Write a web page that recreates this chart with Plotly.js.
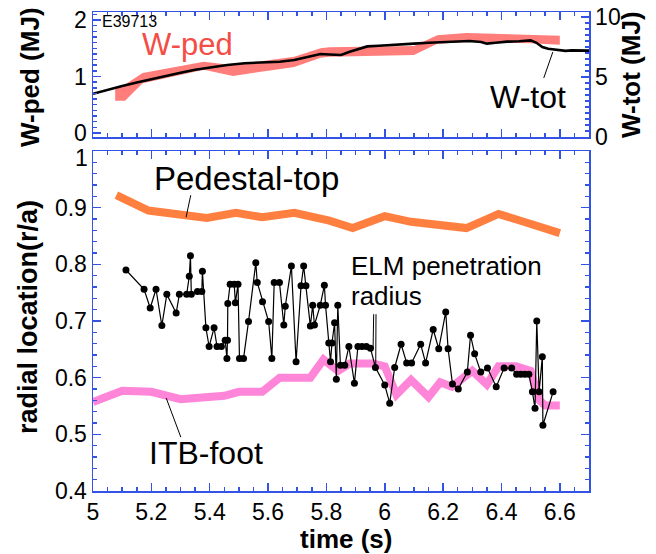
<!DOCTYPE html>
<html>
<head>
<meta charset="utf-8">
<script src="https://cdn.plot.ly/plotly-3.0.1.min.js"></script>
<style>html,body{margin:0;padding:0;background:#fff;}#chart{width:656px;height:554px;}</style>
</head>
<body>
<div id="chart"></div>
<script>
// ---- Data ----
// Upper panel: W-ped band (MJ, left axis)
const wpedT     = [5.076, 5.11, 5.17, 5.38, 5.48, 5.69, 5.78, 5.81, 6.10, 6.18, 6.28, 6.50, 6.60];
const wpedUpper = [0.80, 0.86, 1.06, 1.26, 1.20, 1.35, 1.50, 1.52, 1.54, 1.73, 1.77, 1.73, 1.72];
const wpedLower = [0.57, 0.57, 0.88, 1.12, 1.01, 1.17, 1.33, 1.35, 1.38, 1.58, 1.61, 1.59, 1.56];
// Upper panel: W-tot (MJ, right axis)
const wtotT = [5.00,5.05,5.10,5.15,5.19,5.25,5.30,5.35,5.41,5.46,5.52,5.58,5.64,5.69,5.73,5.78,5.81,5.85,5.88,5.91,5.94,5.98,6.02,6.06,6.10,6.15,6.20,6.25,6.29,6.33,6.35,6.38,6.42,6.46,6.50,6.52,6.54,6.56,6.59,6.62,6.64,6.67,6.70];
const wtotV = [3.60,3.95,4.25,4.55,4.78,5.10,5.35,5.60,5.83,6.00,6.15,6.22,6.27,6.42,6.62,6.92,6.88,6.83,7.10,7.35,7.55,7.60,7.68,7.75,7.78,7.85,7.92,7.98,8.00,7.92,7.78,7.85,7.95,7.98,8.05,7.85,7.50,7.35,7.25,7.18,7.22,7.20,7.20];
// Lower panel: Pedestal-top (r/a)
const pedT = [5.08, 5.19, 5.39, 5.49, 5.58, 5.69, 5.81, 5.89, 6.00, 6.09, 6.28, 6.39, 6.49, 6.60];
const pedR = [0.922,0.895,0.882,0.891,0.883,0.891,0.877,0.864,0.885,0.875,0.864,0.889,0.873,0.855];
// Lower panel: ITB-foot (r/a)
const itbT = [5.00,5.10,5.20,5.30,5.45,5.50,5.58,5.64,5.745,5.79,5.84,5.88,5.96,6.00,6.04,6.09,6.15,6.19,6.23,6.30,6.35,6.39,6.45,6.50,6.53,6.55,6.60];
const itbR = [0.557,0.577,0.575,0.562,0.568,0.575,0.575,0.600,0.600,0.632,0.612,0.625,0.625,0.620,0.570,0.596,0.566,0.592,0.584,0.612,0.588,0.620,0.620,0.612,0.560,0.551,0.551];
// Lower panel: ELM penetration radius (r/a)
const elmT = [
 5.113,5.175,5.196,5.216,5.236,5.253,5.285,5.296,5.321,5.330,
 5.334,5.337,5.358,5.373,5.375,5.387,5.398,5.415,5.425,5.440,
 5.453,5.459,5.461,5.462,5.470,5.484,5.488,5.497,5.502,5.516,
 5.533,5.558,5.563,5.581,5.602,5.613,5.621,5.639,5.654,5.659,
 5.680,5.696,5.713,5.722,5.730,5.745,5.753,5.759,5.779,5.793,
 5.797,5.808,5.814,5.819,5.828,5.834,5.839,5.848,5.863,5.877,
 5.896,5.908,5.922,5.937,5.951,5.968,6.000,6.017,6.034,6.056,
 6.075,6.092,6.123,6.140,6.166,6.185,6.209,6.217,6.232,6.252,
 6.283,6.294,6.308,6.329,6.352,6.382,6.409,6.435,6.452,6.466,
 6.480,6.494,6.506,6.515,6.521,6.529,6.540,6.542,6.577];
const elmR = [
 0.790,0.756,0.723,0.756,0.692,0.747,0.714,0.747,0.747,0.779,
 0.815,0.747,0.752,0.752,0.788,0.688,0.655,0.688,0.655,0.655,
 0.666,0.634,0.666,0.731,0.765,0.765,0.732,0.765,0.634,0.634,
 0.699,0.803,0.768,0.734,0.699,0.634,0.768,0.768,0.693,0.726,
 0.797,0.628,0.762,0.797,0.762,0.691,0.728,0.693,0.728,0.763,
 0.728,0.661,0.628,0.661,0.697,0.597,0.728,0.622,0.622,0.655,
 0.590,0.655,0.655,0.655,0.652,0.618,0.587,0.555,0.618,0.659,
 0.626,0.626,0.659,0.626,0.685,0.651,0.716,0.651,0.589,0.580,
 0.610,0.675,0.642,0.610,0.617,0.584,0.617,0.617,0.606,0.606,
 0.606,0.606,0.575,0.546,0.700,0.575,0.637,0.516,0.575];
const xTickVals = [5, 5.2, 5.4, 5.6, 5.8, 6, 6.2, 6.4, 6.6];
const xTickLabels = ['5','5.2','5.4','5.6','5.8','6','6.2','6.4','6.6'];
const yTickVals = [0.4, 0.5, 0.6, 0.7, 0.8, 0.9, 1.0];
const yTickLabels = ['0.4','0.5','0.6','0.7','0.8','0.9',''];  // top label "1" drawn just inside the frame, as in the original
const yTopLabel = '1';

// ---- Styles ----
const BLUE = '#3352e6';
const FONT = 'Liberation Sans, Arial, Helvetica, sans-serif';

const traces = [
  { // W-ped band
    x: wpedT.concat(wpedT.slice().reverse()),
    y: wpedUpper.concat(wpedLower.slice().reverse()),
    xaxis: 'x2', yaxis: 'y2', mode: 'lines', fill: 'toself',
    fillcolor: '#ff7d7a', line: {width: 0, color: '#ff7d7a'}, hoverinfo: 'skip'
  },
  { // W-tot
    x: wtotT, y: wtotV, xaxis: 'x2', yaxis: 'y3', mode: 'lines',
    line: {color: 'black', width: 2.6, shape: 'linear'}
  },
  { // Pedestal-top
    x: pedT, y: pedR, xaxis: 'x', yaxis: 'y', mode: 'lines',
    line: {color: '#ff7f40', width: 8}
  },
  { // ITB-foot
    x: itbT, y: itbR, xaxis: 'x', yaxis: 'y', mode: 'lines',
    line: {color: '#ff85d8', width: 8}
  },
  { // ELM penetration radius
    x: elmT, y: elmR, xaxis: 'x', yaxis: 'y', mode: 'lines+markers',
    line: {color: 'black', width: 1.2},
    marker: {color: 'black', size: 7, symbol: 'circle'}
  }
];

const tickCommon = {
  ticks: 'inside', tickcolor: BLUE, tickwidth: 1.5,
  showline: true, linecolor: BLUE, linewidth: 1.5,
  showgrid: false, zeroline: false,
  tickfont: {family: FONT, size: 23, color: 'black'}
};
const minorX = {dtick: 0.05, tick0: 5, ticklen: 4, tickcolor: BLUE, tickwidth: 1.5, ticks: 'inside', showgrid: false};

const layout = {
  width: 656, height: 554,
  margin: {l: 93, r: 67, t: 12, b: 63},
  paper_bgcolor: 'white', plot_bgcolor: 'white',
  showlegend: false,
  font: {family: FONT, color: 'black'},
  xaxis: Object.assign({}, tickCommon, {
    domain: [0, 1], anchor: 'y', range: [5, 6.7],
    tickmode: 'array', tickvals: xTickVals, ticktext: xTickLabels,
    ticklen: 8, mirror: 'ticks',
    minor: minorX
  }),
  yaxis: Object.assign({}, tickCommon, {
    domain: [0, 0.7098], anchor: 'x', range: [0.4, 1.0],
    tickmode: 'array', tickvals: yTickVals, ticktext: yTickLabels,
    ticklen: 8, mirror: 'ticks',
    minor: {dtick: 0.02, tick0: 0.4, ticklen: 4, tickcolor: BLUE, tickwidth: 1.5, ticks: 'inside', showgrid: false}
  }),
  xaxis2: Object.assign({}, tickCommon, {
    domain: [0, 1], anchor: 'y2', range: [5, 6.7], matches: 'x',
    showticklabels: false, tickmode: 'array', tickvals: xTickVals, ticklen: 8, mirror: 'ticks',
    minor: minorX
  }),
  yaxis2: Object.assign({}, tickCommon, {
    domain: [0.738, 1.0], anchor: 'x2', range: [-0.08, 2.142],
    tick0: 0, dtick: 1, ticklen: 8,
    minor: {dtick: 0.1, tick0: 0, ticklen: 4, tickcolor: BLUE, tickwidth: 1.5, ticks: 'inside', showgrid: false}
  }),
  yaxis3: Object.assign({}, tickCommon, {
    overlaying: 'y2', side: 'right', anchor: 'x2', range: [-0.042, 10.417],
    tick0: 0, dtick: 5, ticklen: 8,
    minor: {dtick: 0.5, tick0: 0, ticklen: 4, tickcolor: BLUE, tickwidth: 1.5, ticks: 'inside', showgrid: false}
  }),
  annotations: [
    {text: yTopLabel, xref: 'paper', yref: 'paper', x: -0.006, y: 0.6952, xanchor: 'right', yanchor: 'middle', showarrow: false, font: {family: FONT, size: 23, color: 'black'}},
    {text: 'E39713', xref: 'x2', yref: 'y2', x: 5.024, y: 1.982, xanchor: 'left', yanchor: 'middle', showarrow: false, font: {family: FONT, size: 16, color: 'black'}},
    {text: 'W-ped', xref: 'x2', yref: 'y2', x: 5.161, y: 1.56, xanchor: 'left', yanchor: 'middle', showarrow: false, font: {family: FONT, size: 31, color: '#f44d45'}},
    {text: 'W-tot', xref: 'x2', yref: 'y3', x: 6.353, y: 3.375, xanchor: 'left', yanchor: 'middle', showarrow: false, font: {family: FONT, size: 32, color: 'black'}},
    {text: 'Pedestal-top', xref: 'x', yref: 'y', x: 5.203, y: 0.9514, xanchor: 'left', yanchor: 'middle', showarrow: false, font: {family: FONT, size: 33, color: 'black'}},
    {text: 'ELM penetration', xref: 'x', yref: 'y', x: 5.878, y: 0.7975, xanchor: 'left', yanchor: 'middle', showarrow: false, font: {family: FONT, size: 26, color: 'black'}},
    {text: 'radius', xref: 'x', yref: 'y', x: 5.878, y: 0.7435, xanchor: 'left', yanchor: 'middle', showarrow: false, font: {family: FONT, size: 26, color: 'black'}},
    {text: 'ITB-foot', xref: 'x', yref: 'y', x: 5.1854, y: 0.4662, xanchor: 'left', yanchor: 'middle', showarrow: false, font: {family: FONT, size: 32, color: 'black'}},
    {text: 'W-ped (MJ)', xref: 'paper', yref: 'paper', x: -0.127, y: 0.8643, xanchor: 'center', yanchor: 'middle', textangle: -90, showarrow: false, font: {family: FONT, size: 26, color: 'black', weight: 'bold'}},
    {text: 'W-tot (MJ)', xref: 'paper', yref: 'paper', x: 1.0847, y: 0.8685, xanchor: 'center', yanchor: 'middle', textangle: -90, showarrow: false, font: {family: FONT, size: 26, color: 'black', weight: 'bold'}},
    {text: 'radial location(r/a)', xref: 'paper', yref: 'paper', x: -0.131, y: 0.3633, xanchor: 'center', yanchor: 'middle', textangle: -90, showarrow: false, font: {family: FONT, size: 27, color: 'black', weight: 'bold'}},
    {text: 'time (s)', xref: 'paper', yref: 'paper', x: 0.510, y: -0.1005, xanchor: 'center', yanchor: 'middle', showarrow: false, font: {family: FONT, size: 26, color: 'black', weight: 'bold'}}
  ],
  shapes: [
    {type: 'line', xref: 'x', yref: 'y', x0: 5.335, y0: 0.922, x1: 5.319, y1: 0.883, line: {color: 'black', width: 1}},
    {type: 'line', xref: 'x', yref: 'y', x0: 5.251, y0: 0.564, x1: 5.301, y1: 0.495, line: {color: 'black', width: 1}},
    {type: 'line', xref: 'x2', yref: 'y3', x0: 6.576, y0: 7.08, x1: 6.545, y1: 4.92, line: {color: 'black', width: 1}},
    {type: 'line', xref: 'x', yref: 'y', x0: 5.962, y0: 0.712, x1: 5.960, y1: 0.652, line: {color: 'black', width: 1}},
    {type: 'line', xref: 'x', yref: 'y', x0: 5.970, y0: 0.712, x1: 5.969, y1: 0.618, line: {color: 'black', width: 1}}
  ]
};

Plotly.newPlot('chart', traces, layout, {displayModeBar: false, staticPlot: true});
</script>
</body>
</html>
